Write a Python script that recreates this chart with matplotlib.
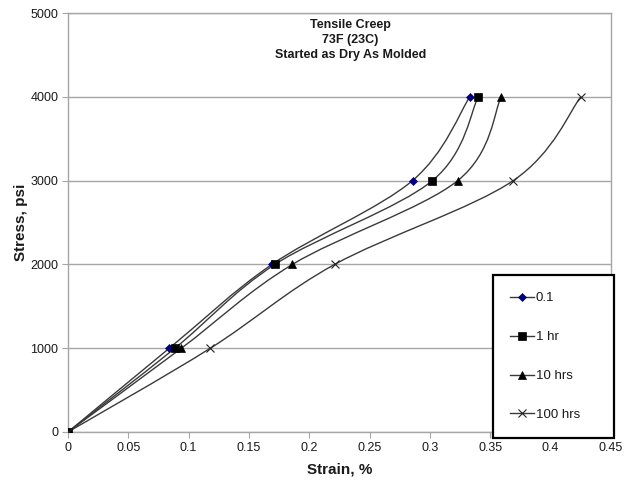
import matplotlib

matplotlib.use("Agg")
import matplotlib.pyplot as plt
from matplotlib.lines import Line2D
from matplotlib.patches import PathPatch
from matplotlib.path import Path

plt.rcParams["font.family"] = ["Liberation Sans", "DejaVu Sans"]

# data
stress = [0, 1000, 2000, 3000, 4000]
strain_01 = [0, 0.084, 0.169, 0.2855, 0.333]
strain_1hr = [0, 0.0886, 0.1715, 0.302, 0.340]
strain_10hr = [0, 0.094, 0.186, 0.323, 0.359]
strain_100hr = [0, 0.118, 0.221, 0.369, 0.425]
labels = ["0.1", "1 hr", "10 hrs", "100 hrs"]
x_ticks = [0, 0.05, 0.1, 0.15, 0.2, 0.25, 0.3, 0.35, 0.4, 0.45]
y_ticks = [0, 1000, 2000, 3000, 4000, 5000]

LINE = "#3a3a3a"
GRID = "#a6a6a6"
TEXT = "#1a1a1a"
NAVY = "#000080"

styles = [
    dict(marker="D", color=NAVY, ms=4.2, mew=0.5),
    dict(marker="s", color="black", ms=5.5, mew=0.5),
    dict(marker="^", color="black", ms=6.0, mew=0.5),
    dict(marker="x", color="#222222", ms=6.0, mew=0.8),
]


def smooth_path(xs, ys, t=1 / 6):
    """Excel-style smoothed line: cubic Bezier through the points."""
    pts = list(zip(xs, ys))
    verts = [pts[0]]
    codes = [Path.MOVETO]
    n = len(pts)
    for i in range(n - 1):
        p0 = pts[max(i - 1, 0)]
        p1 = pts[i]
        p2 = pts[i + 1]
        p3 = pts[min(i + 2, n - 1)]
        c1 = (p1[0] + (p2[0] - p0[0]) * t, p1[1] + (p2[1] - p0[1]) * t)
        c2 = (p2[0] - (p3[0] - p1[0]) * t, p2[1] - (p3[1] - p1[1]) * t)
        verts += [c1, c2, p2]
        codes += [Path.CURVE4] * 3
    return Path(verts, codes)


fig = plt.figure(figsize=(6.26, 4.84), dpi=100)
ax = fig.add_axes([68 / 626, 52 / 484, 543 / 626, 419 / 484])

series = [strain_01, strain_1hr, strain_10hr, strain_100hr]
handles = []
for xs, lab, st in zip(series, labels, styles):
    ax.add_patch(PathPatch(smooth_path(xs, stress), fill=False,
                           edgecolor=LINE, linewidth=1.0, zorder=3))
    ax.plot(xs, stress, linestyle="none", marker=st["marker"], ms=st["ms"],
            color=st["color"], mec=st["color"], mew=st["mew"], zorder=4)
    handles.append(Line2D([], [], color=LINE, linewidth=1.0, marker=st["marker"],
                          ms=st["ms"], mfc=st["color"], mec=st["color"],
                          mew=st["mew"], label=lab))

ax.set_xlim(0, 0.45)
ax.set_ylim(0, 5000)
ax.set_xticks(x_ticks)
ax.set_xticklabels([f"{v:g}" for v in x_ticks])
ax.set_yticks(y_ticks)
ax.yaxis.grid(True, color=GRID, linewidth=1.0)
ax.set_axisbelow(True)
for side in ax.spines.values():
    side.set_color(GRID)
    side.set_linewidth(1.0)
ax.tick_params(direction="out", length=4, color=GRID, labelsize=9,
               labelcolor=TEXT, pad=3)

ax.set_xlabel("Strain, %", fontsize=11, fontweight="bold", labelpad=6,
              color=TEXT)
ax.set_ylabel("Stress, psi", fontsize=11, fontweight="bold", labelpad=2,
              color=TEXT)

ax.text(0.52, 0.985, "Tensile Creep\n73F (23C)\nStarted as Dry As Molded",
        transform=ax.transAxes, ha="center", va="top", fontsize=9,
        fontweight="bold", linespacing=1.32, color=TEXT)

leg = fig.legend(handles=handles, loc="upper left", mode="expand",
                 bbox_to_anchor=(493 / 626, 1 - 431 / 484, 121 / 626, 156 / 484),
                 bbox_transform=fig.transFigure, fontsize=9.5,
                 frameon=True, fancybox=False, borderaxespad=0,
                 handlelength=1.8, handletextpad=0.15, labelspacing=2.02,
                 borderpad=1.3)
for t in leg.get_texts():
    t.set_color(TEXT)
frame = leg.get_frame()
frame.set_edgecolor("black")
frame.set_linewidth(1.6)
frame.set_facecolor("white")
frame.set_alpha(1)

fig.savefig("out.png", dpi=100, facecolor="white")
